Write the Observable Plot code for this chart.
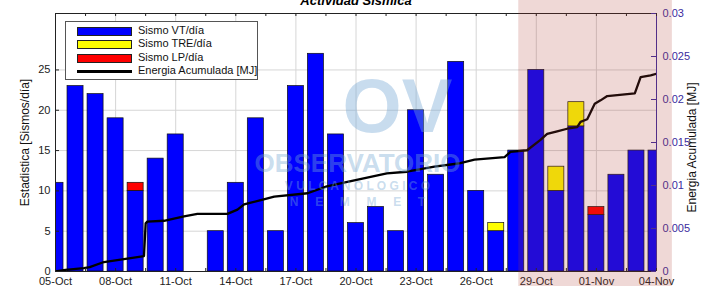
<!DOCTYPE html>
<html><head><meta charset="utf-8">
<script src="https://cdn.jsdelivr.net/npm/d3@7"></script>
<script src="https://cdn.jsdelivr.net/npm/@observablehq/plot@0.6"></script>
<style>
html,body{margin:0;padding:0;background:#fff;overflow:hidden}
#wrap{position:relative;width:702px;height:286px;font-family:"Liberation Sans",Arial,sans-serif}
#wrap svg{display:block}
.legend{position:absolute;left:65px;top:21px;width:191px;height:57px;border:1px solid #555;background:#fff;font-size:11px;color:#111}
.row{position:absolute;left:0;width:191px;height:13px}
.sw{position:absolute;left:11px;top:2px;width:53px;height:7px;border:1px solid #222}
.ln{position:absolute;left:11px;top:5px;width:55px;height:2.5px;background:#000}
.tx{position:absolute;left:72px;top:-1px;white-space:nowrap;line-height:13px}
</style>
</head><body>
<div id="wrap"></div>
<script>
// ---- data ----
const days = ["2024-10-05","2024-10-06","2024-10-07","2024-10-08","2024-10-09","2024-10-10","2024-10-11","2024-10-12","2024-10-13","2024-10-14","2024-10-15","2024-10-16","2024-10-17","2024-10-18","2024-10-19","2024-10-20","2024-10-21","2024-10-22","2024-10-23","2024-10-24","2024-10-25","2024-10-26","2024-10-27","2024-10-28","2024-10-29","2024-10-30","2024-10-31","2024-11-01","2024-11-02","2024-11-03","2024-11-04"];
const sismoVT  = [11,23,22,19,10,14,17,0,5,11,19,5,23,27,17,6,8,5,20,12,26,10,5,15,25,10,18,7,12,15,15];
const sismoTRE = [0,0,0,0,0,0,0,0,0,0,0,0,0,0,0,0,0,0,0,0,0,0,1,0,0,3,3,0,0,0,0];
const sismoLP  = [0,0,0,0,1,0,0,0,0,0,0,0,0,0,0,0,0,0,0,0,0,0,0,0,0,0,0,1,0,0,0];
const energyTime = ["2024-10-05T00:00","2024-10-05T12:00","2024-10-06T10:00","2024-10-06T17:00","2024-10-07T10:00","2024-10-08T14:00","2024-10-09T10:00","2024-10-09T12:00","2024-10-09T14:00","2024-10-10T10:00","2024-10-11T10:00","2024-10-12T02:00","2024-10-13T14:00","2024-10-14T02:00","2024-10-14T10:00","2024-10-14T18:00","2024-10-15T06:00","2024-10-15T22:00","2024-10-17T14:00","2024-10-18T13:00","2024-10-19T22:00","2024-10-21T13:00","2024-10-22T13:00","2024-10-23T22:00","2024-10-24T22:00","2024-10-25T05:00","2024-10-25T22:00","2024-10-27T10:00","2024-10-27T17:00","2024-10-28T13:00","2024-10-29T05:00","2024-10-29T13:00","2024-10-30T01:00","2024-10-30T13:00","2024-10-31T01:00","2024-10-31T05:00","2024-10-31T13:00","2024-10-31T22:00","2024-11-01T05:00","2024-11-01T13:00","2024-11-02T22:00","2024-11-03T05:00","2024-11-03T17:00","2024-11-04T00:00"];
const energyMJ = [0.0000,0.0002,0.0004,0.0005,0.0011,0.0015,0.0018,0.0056,0.0058,0.0059,0.0064,0.0067,0.0067,0.0072,0.0078,0.0080,0.0083,0.0087,0.0091,0.0099,0.0106,0.0114,0.0116,0.0122,0.0125,0.0126,0.0130,0.0133,0.0139,0.0141,0.0153,0.0160,0.0163,0.0166,0.0168,0.0174,0.0177,0.0195,0.0199,0.0204,0.0207,0.0226,0.0228,0.0230];
const leftTicks = [0,5,10,15,20,25];
const rightTicks = [0,0.005,0.01,0.015,0.02,0.025,0.03];
const rightTickLabels = ["0","0.005","0.01","0.015","0.02","0.025","0.03"];
const xTickDays = ["2024-10-05","2024-10-08","2024-10-11","2024-10-14","2024-10-17","2024-10-20","2024-10-23","2024-10-26","2024-10-29","2024-11-01","2024-11-04"];
const shadeStart = "2024-10-28T03:00";
const shadeEnd = "2024-11-04T19:00";
const leftMax = 32, rightMax = 0.03;

// ---- build ----
const D = s => new Date(s + (s.length > 10 ? ":00Z" : "T00:00:00Z"));
const DAY = 864e5, HALF = 0.4 * DAY;
const k = leftMax / rightMax;
const colVT = "#0000ff", colTRE = "#ffff00", colLP = "#ff0000";
const purple = "#3b2c9e";

const segs = [];
days.forEach((d, i) => {
  const c = +D(d);
  let base = 0;
  [[sismoVT[i], colVT], [sismoTRE[i], colTRE], [sismoLP[i], colLP]].forEach(([v, col]) => {
    if (v > 0) segs.push({x1: new Date(c - HALF), x2: new Date(c + HALF), y1: base, y2: base + v, fill: col});
    base += v;
  });
});
const energy = energyTime.map((t, i) => ({t: D(t), v: energyMJ[i] * k}));
const xTicks = xTickDays.map(D);
const x0 = D(days[0]), x1 = D(days[days.length - 1]);
const minorTicks = d3.range(+x0, +x1 + 1, 1.5 * DAY).map(t => new Date(t));
const rightScaled = rightTicks.map(v => v * k);

const FW = 702 - 55 - 46, FH = 286 - 13 - 15;
const wmFill = "rgb(118,168,212)", wmOp = 0.4;
const wm = {frameAnchor: "top-left", textAnchor: "middle", lineAnchor: "middle", fontWeight: "bold", fill: wmFill, fillOpacity: wmOp};

const chart = Plot.plot({
  width: 702, height: 286,
  marginLeft: 55, marginRight: 46, marginTop: 13, marginBottom: 15,
  style: {fontFamily: "'Liberation Sans', Arial, sans-serif", fontSize: "11px", background: "#fff", overflow: "visible"},
  x: {type: "utc", domain: [x0, x1]},
  y: {domain: [0, leftMax]},
  marks: [
    Plot.gridY(leftTicks.slice(1), {stroke: "#d6d6d6", strokeOpacity: 1}),
    Plot.gridX(xTicks, {stroke: "#d6d6d6", strokeOpacity: 1}),
    Plot.rect(segs, {x1: "x1", x2: "x2", y1: "y1", y2: "y2", fill: d => d.fill, stroke: "#111", strokeWidth: 0.7, clip: true}),
    Plot.line(energy, {x: "t", y: "v", stroke: "#000", strokeWidth: 2.3, clip: true}),
    // watermark
    Plot.text(["OV"], {...wm, dx: 342, dy: 94, fontSize: 76}),
    Plot.text(["OBSERVATORIO"], {...wm, dx: 302, dy: 150, fontSize: 26}),
    Plot.text(["V U L C A N O L O G I C O"], {...wm, dx: 302, dy: 173, fontSize: 12}),
    Plot.text(["N     E     M     M     E     T"], {...wm, dx: 302, dy: 189, fontSize: 12}),
    // spines
    Plot.ruleY([0], {stroke: "#222"}),
    Plot.ruleY([leftMax], {stroke: "#222"}),
    Plot.ruleX([x0], {stroke: "#222"}),
    Plot.ruleX([x1], {stroke: purple}),
    // inward ticks
    Plot.tickY(leftTicks, {y: d => d, stroke: "#222", insetRight: FW - 4}),
    Plot.tickY(rightScaled, {y: d => d, stroke: purple, insetLeft: FW - 5}),
    Plot.tickX(minorTicks, {x: d => d, stroke: "#222", insetTop: FH - 3}),
    Plot.tickX(minorTicks, {x: d => d, stroke: "#222", insetBottom: FH - 3}),
    // axes
    Plot.axisY(leftTicks, {anchor: "left", tickSize: 0, tickPadding: 5, label: null, color: "#222"}),
    Plot.axisY(rightScaled, {anchor: "right", tickSize: 0, tickPadding: 6, label: null, color: purple, tickFormat: d => rightTickLabels[rightScaled.indexOf(d)]}),
    Plot.axisX(xTicks, {anchor: "bottom", tickSize: 0, tickPadding: 6, label: null, color: "#222", tickFormat: d3.utcFormat("%d-%b")}),
    // shaded period
    Plot.rect([{a: D(shadeStart), b: D(shadeEnd)}], {x1: "a", x2: "b", fill: "#b03a30", fillOpacity: 0.2, insetTop: -14, insetBottom: -16}),
    // labels
    Plot.text(["Estadistica [Sismos/día]"], {frameAnchor: "left", textAnchor: "middle", lineAnchor: "middle", rotate: -90, dx: -30, fontSize: 12, fill: "#111"}),
    Plot.text(["Energia Acumulada [MJ]"], {frameAnchor: "right", textAnchor: "middle", lineAnchor: "middle", rotate: -90, dx: 36, dy: 5, fontSize: 12, fill: "#111"}),
    Plot.text(["Actividad Sísmica"], {frameAnchor: "top", dy: -9, lineAnchor: "bottom", fontSize: 13, fontWeight: "bold", fontStyle: "italic", fill: "#000"})
  ]
});

const wrap = document.getElementById("wrap");
wrap.appendChild(chart);

// legend
const items = [["sw", colVT, "Sismo VT/día"], ["sw", colTRE, "Sismo TRE/día"], ["sw", colLP, "Sismo LP/día"], ["ln", "#000", "Energia Acumulada [MJ]"]];
const tops = [3, 16, 30, 43];
const lg = document.createElement("div");
lg.className = "legend";
items.forEach(([kind, col, label], i) => {
  const r = document.createElement("div");
  r.className = "row"; r.style.top = tops[i] + "px";
  const s = document.createElement("div"); s.className = kind; s.style.background = col;
  const t = document.createElement("div"); t.className = "tx"; t.textContent = label;
  r.appendChild(s); r.appendChild(t); lg.appendChild(r);
});
wrap.appendChild(lg);
</script>
</body></html>
